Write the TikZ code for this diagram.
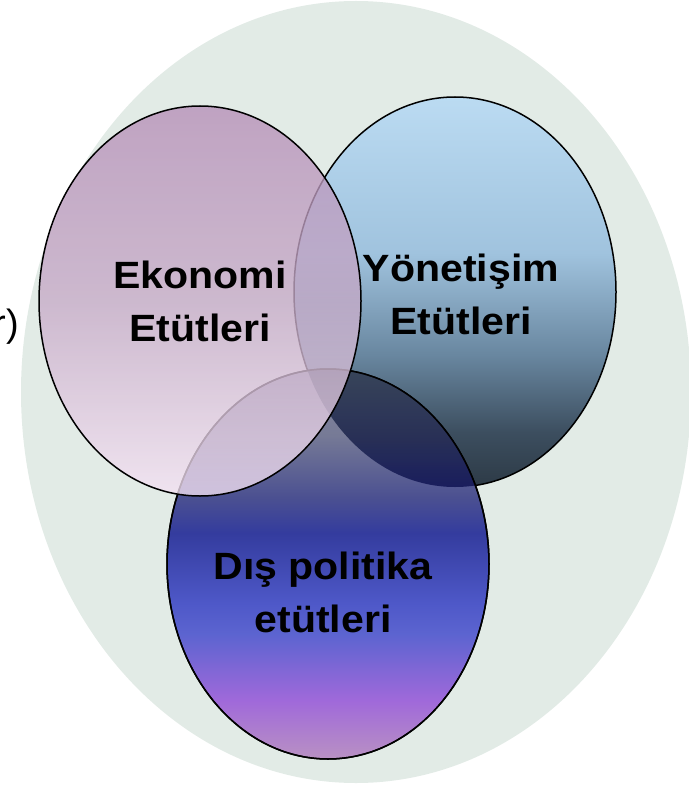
\documentclass[tikz,border=0pt]{standalone}
\usepackage{fontspec}
\setmainfont{Liberation Sans}
\usetikzlibrary{shapes}

\definecolor{zemin}{RGB}{226,235,230}
\definecolor{eko1}{RGB}{182,143,184}
\definecolor{eko2}{RGB}{199,171,200}
\definecolor{eko3}{RGB}{244,226,243}
\definecolor{yon1}{RGB}{187,219,242}
\definecolor{yon2}{RGB}{160,195,222}
\definecolor{yon3}{RGB}{105,135,160}
\definecolor{yon4}{RGB}{60,78,95}
\definecolor{yon5}{RGB}{45,58,70}
\definecolor{dis1}{RGB}{135,138,160}
\definecolor{dis2}{RGB}{118,122,150}
\definecolor{dis3}{RGB}{75,80,145}
\definecolor{dis4}{RGB}{52,60,158}
\definecolor{dis5}{RGB}{78,88,200}
\definecolor{dis6}{RGB}{92,100,208}
\definecolor{dis7}{RGB}{160,105,218}
\definecolor{dis8}{RGB}{185,145,195}
\definecolor{mercek1}{RGB}{48,62,82}
\definecolor{mercek2}{RGB}{32,40,80}
\definecolor{mercek3}{RGB}{20,24,88}

\pgfdeclareverticalshading{ekonomi}{100bp}{color(0bp)=(eko3); color(25bp)=(eko3); color(50bp)=(eko2); color(75bp)=(eko1); color(100bp)=(eko1)}
\pgfdeclareverticalshading{yonetisim}{100bp}{color(0bp)=(yon5); color(25bp)=(yon5); color(32bp)=(yon4); color(42bp)=(yon3); color(55bp)=(yon2); color(75bp)=(yon1); color(100bp)=(yon1)}
\pgfdeclareverticalshading{dispolitika}{100bp}{color(0bp)=(dis8); color(25bp)=(dis8); color(32.5bp)=(dis7); color(41bp)=(dis6); color(45bp)=(dis5); color(54bp)=(dis4); color(58.5bp)=(dis3); color(66.5bp)=(dis2); color(75bp)=(dis1); color(100bp)=(dis1)}
\pgfdeclareverticalshading{mercek}{100bp}{color(0bp)=(mercek3); color(60bp)=(mercek3); color(66bp)=(mercek2); color(75bp)=(mercek1); color(100bp)=(mercek1)}

\begin{document}
\begin{tikzpicture}[x=1pt,y=-1pt,
  daire/.style={ellipse,draw=black,line width=1.5pt,inner sep=0pt,minimum width=322pt,minimum height=390pt},
  yazi/.style={align=center,inner sep=0pt,xscale=1.08,font=\fontsize{38}{53}\selectfont\bfseries}]
\useasboundingbox (0,0) rectangle (688,786);
\fill[zemin] (356,392) ellipse [x radius=335, y radius=391];
\node[daire,shading=yonetisim] (yon) at (455,292) {};
\node[daire,shading=dispolitika] (dis) at (328,564) {};
\begin{scope}
\clip (yon.center) ellipse [x radius=161, y radius=195];
\shade[shading=mercek,fill opacity=.9] (dis.center) ellipse [x radius=161, y radius=195];
\end{scope}
\draw[line width=1.5pt] (dis.center) ellipse [x radius=161, y radius=195];
\node[daire,shading=ekonomi,fill opacity=.78] (eko) at (200,301) {};
\node[yazi] (ekoT) at (eko) {Ekonomi\\Etütleri};
\node[yazi] (yonT) at (461,294) {Yönetişim\\Etütleri};
\node[yazi] (disT) at (323,592) {Dış politika\\etütleri};
\node[anchor=base east,inner sep=0pt,font=\fontsize{38}{44}\selectfont] (kesik) at (19,336) {r)};
\end{tikzpicture}
\end{document}
